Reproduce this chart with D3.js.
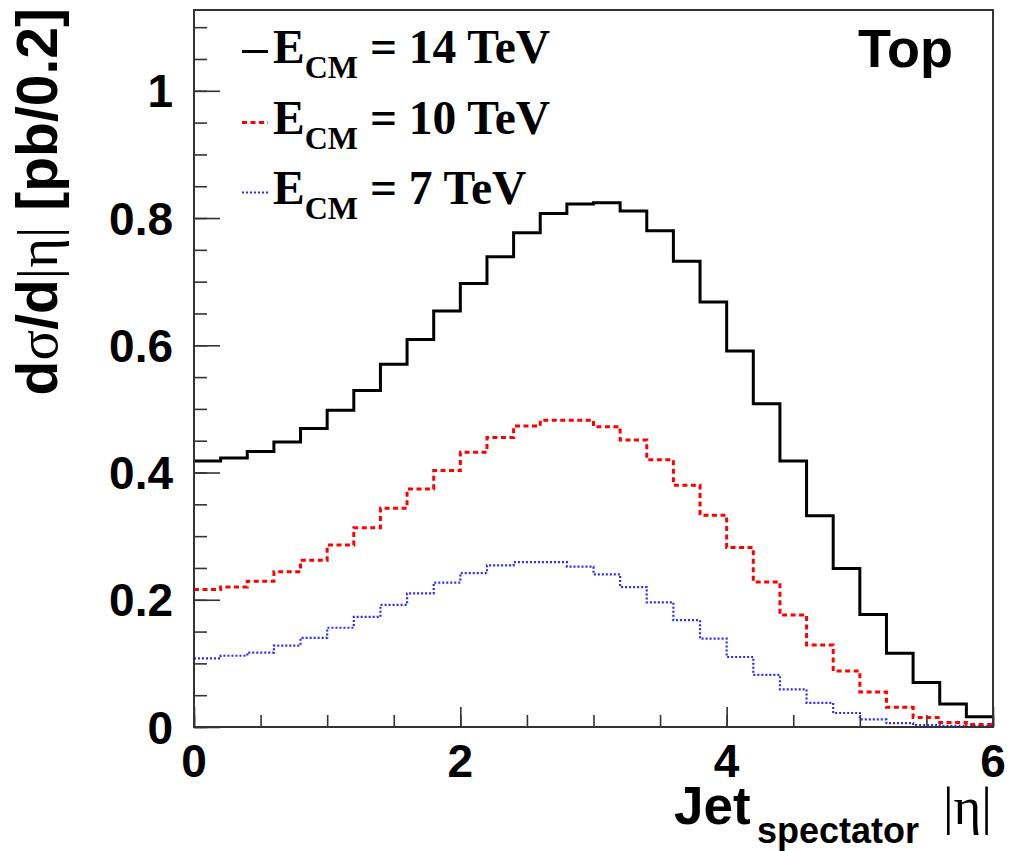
<!DOCTYPE html>
<html>
<head>
<meta charset="utf-8">
<script src="https://cdn.jsdelivr.net/npm/d3@7"></script>
<style>
  html, body { margin: 0; padding: 0; background: #fff; }
  svg { display: block; }
</style>
</head>
<body>
<div id="chart"></div>
<script>
// ---- data ----
const binEdges = [0.0, 0.2, 0.4, 0.6, 0.8, 1.0, 1.2, 1.4, 1.6, 1.8, 2.0, 2.2, 2.4, 2.6, 2.8, 3.0,
                  3.2, 3.4, 3.6, 3.8, 4.0, 4.2, 4.4, 4.6, 4.8, 5.0, 5.2, 5.4, 5.6, 5.8, 6.0];
const seriesNames = ["14 TeV", "10 TeV", "7 TeV"];
const values14 = [0.418, 0.423, 0.433, 0.448, 0.469, 0.498, 0.529, 0.570, 0.609, 0.654,
                  0.697, 0.739, 0.777, 0.807, 0.822, 0.824, 0.811, 0.780, 0.732, 0.668,
                  0.591, 0.508, 0.418, 0.332, 0.249, 0.177, 0.116, 0.070, 0.036, 0.016];
const values10 = [0.216, 0.220, 0.229, 0.244, 0.262, 0.286, 0.313, 0.344, 0.374, 0.403,
                  0.432, 0.455, 0.473, 0.482, 0.482, 0.472, 0.451, 0.420, 0.380, 0.333,
                  0.282, 0.228, 0.176, 0.129, 0.088, 0.055, 0.031, 0.015, 0.007, 0.004];
const values7  = [0.108, 0.112, 0.117, 0.128, 0.140, 0.156, 0.173, 0.192, 0.210, 0.227,
                  0.242, 0.254, 0.259, 0.259, 0.252, 0.240, 0.220, 0.196, 0.168, 0.139,
                  0.110, 0.082, 0.059, 0.038, 0.022, 0.012, 0.006, 0.003, 0.002, 0.001];
const yTickValues = [0, 0.2, 0.4, 0.6, 0.8, 1.0];
const yTickLabels = ["0", "0.2", "0.4", "0.6", "0.8", "1"];
const xTickValues = [0, 2, 4, 6];
const xTickLabels = ["0", "2", "4", "6"];

// ---- layout ----
const W = 1010, H = 851;
const L = 194, R = 993, T = 10, B = 727;
const sans = "'Liberation Sans', Arial, Helvetica, sans-serif";
const serif = "'Liberation Serif', 'Times New Roman', serif";

const svg = d3.select("#chart").append("svg").attr("width", W).attr("height", H);

const x = d3.scaleLinear().domain([0, 6]).range([L, R]);
const y = d3.scaleLinear().domain([0, 1.127]).range([B, T]);

// minor ticks
const yMinor = d3.range(0, 1.1001, 0.05);
const xMinor = d3.range(0, 6.0001, 0.5);

// y axis ticks (inside)
const yAxisMinor = d3.axisRight(y).tickValues(yMinor).tickSize(13).tickFormat("");
const yAxisMajor = d3.axisRight(y).tickValues(yTickValues).tickSize(26).tickFormat("");
[yAxisMinor, yAxisMajor].forEach(ax => {
  const g = svg.append("g").attr("transform", `translate(${L},0)`).call(ax);
  g.select(".domain").remove();
  g.selectAll("line").attr("stroke", "#333").attr("stroke-width", 1.6);
});
const xAxisMinor = d3.axisTop(x).tickValues(xMinor).tickSize(12).tickFormat("");
const xAxisMajor = d3.axisTop(x).tickValues(xTickValues).tickSize(20).tickFormat("");
[xAxisMinor, xAxisMajor].forEach(ax => {
  const g = svg.append("g").attr("transform", `translate(0,${B})`).call(ax);
  g.select(".domain").remove();
  g.selectAll("line").attr("stroke", "#333").attr("stroke-width", 1.6);
});

// tick labels
svg.append("g").selectAll("text").data(yTickValues).join("text")
  .attr("x", 173).attr("y", d => y(d)).attr("dy", "0.36em")
  .attr("text-anchor", "end")
  .attr("font-family", sans).attr("font-weight", "bold").attr("font-size", 46)
  .text((d, i) => yTickLabels[i]);
svg.append("g").selectAll("text").data(xTickValues).join("text")
  .attr("x", d => x(d)).attr("y", 777)
  .attr("text-anchor", "middle")
  .attr("font-family", sans).attr("font-weight", "bold").attr("font-size", 46)
  .text((d, i) => xTickLabels[i]);

// histograms
const stepLine = d3.line().x(d => x(d[0])).y(d => y(d[1])).curve(d3.curveStepAfter);
function pts(vals) {
  const p = vals.map((v, i) => [binEdges[i], v]);
  p.push([binEdges[binEdges.length - 1], vals[vals.length - 1]]);
  return p;
}
const hists = [
  { vals: values14, color: "#000000", width: 3, dash: null },
  { vals: values10, color: "#ff0000", width: 3, dash: "5,3.5" },
  { vals: values7,  color: "#2a2aff", width: 2.2, dash: "2,2" }
];
hists.forEach(h => {
  svg.append("path").attr("d", stepLine(pts(h.vals)))
    .attr("fill", "none").attr("stroke", h.color).attr("stroke-width", h.width)
    .attr("stroke-dasharray", h.dash).attr("stroke-linejoin", "miter");
});

// frame
svg.append("rect").attr("x", L).attr("y", T).attr("width", R - L).attr("height", B - T)
  .attr("fill", "none").attr("stroke", "#333").attr("stroke-width", 2);

// legend
const legendRows = [
  { name: seriesNames[0], color: "#000000", width: 3, dash: null, base: 63 },
  { name: seriesNames[1], color: "#ff0000", width: 3, dash: "5,3.5", base: 134 },
  { name: seriesNames[2], color: "#2a2aff", width: 2.2, dash: "2,2", base: 204 }
];
legendRows.forEach(r => {
  svg.append("line").attr("x1", 242).attr("x2", 268)
    .attr("y1", r.base - 11.5).attr("y2", r.base - 11.5)
    .attr("stroke", r.color).attr("stroke-width", r.width).attr("stroke-dasharray", r.dash);
  const t = svg.append("text").attr("x", 273).attr("y", r.base)
    .attr("font-family", serif).attr("font-weight", "bold").attr("font-size", 47.5);
  t.append("tspan").text("E");
  t.append("tspan").attr("font-size", 32).attr("dy", 15).text("CM");
  t.append("tspan").attr("dy", -15).text(" = " + r.name);
});

// "Top" label
svg.append("text").attr("x", 858).attr("y", 67)
  .attr("font-family", sans).attr("font-weight", "bold").attr("font-size", 54)
  .text("Top");

// y title
const yt = svg.append("text")
  .attr("transform", "translate(57,8) rotate(-90)")
  .attr("text-anchor", "end")
  .attr("font-family", sans).attr("font-weight", "bold").attr("font-size", 57);
yt.append("tspan").text("d");
yt.append("tspan").attr("font-family", serif).attr("font-weight", "normal").text("σ");
yt.append("tspan").text("/d");
yt.append("tspan").attr("font-family", serif).attr("font-weight", "normal").text("|η|");
yt.append("tspan").text(" [pb/0.2]");

// x title
svg.append("text").attr("x", 674).attr("y", 824)
  .attr("font-family", sans).attr("font-weight", "bold").attr("font-size", 53)
  .text("Jet");
svg.append("text").attr("x", 757).attr("y", 843)
  .attr("font-family", sans).attr("font-weight", "bold").attr("font-size", 36)
  .text("spectator");
svg.append("text").attr("x", 943).attr("y", 824)
  .attr("font-family", serif).attr("font-size", 53)
  .text("|η|");
</script>
</body>
</html>
